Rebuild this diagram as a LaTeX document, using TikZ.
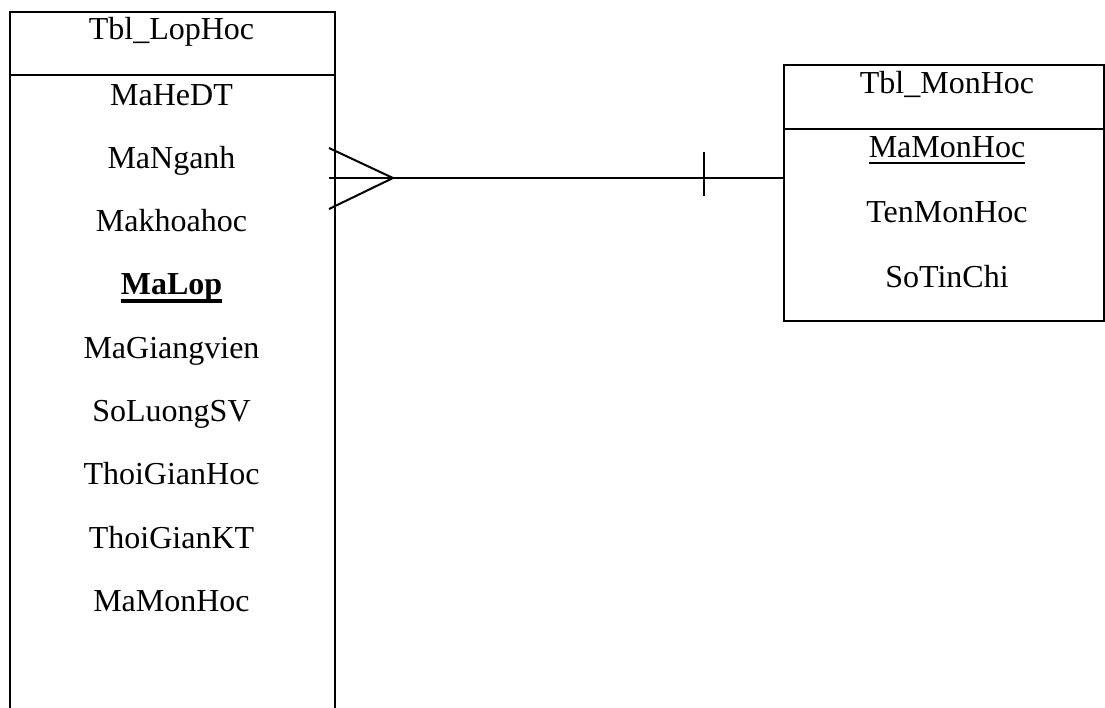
\documentclass[tikz,border=0pt]{standalone}
\usepackage{fontspec}
\setmainfont{Liberation Serif}
\usetikzlibrary{positioning}

% underline close under the baseline, #1 = rule thickness
\newcommand{\keyul}[3]{\setbox0\hbox{#3}\rlap{\copy0}\rule[-#2]{\wd0}{#1}}

\begin{document}
\begin{tikzpicture}[x=0.5pt,y=-0.5pt,on grid,
  tbl/.style={draw,line width=1.2pt,inner sep=0pt,anchor=north west},
  attr/.style={font=\fontsize{16}{18}\selectfont,text height=10pt,text depth=3pt,inner sep=0pt},
  rel/.style={line width=1pt}]
  \useasboundingbox (0,0) rectangle (1105,708);

  % tables
  \node[tbl,minimum width=162.5pt,minimum height=370pt] (lophoc) at (9,11) {};
  \node[tbl,minimum width=160pt,minimum height=128pt] (monhoc) at (783,64) {};
  \draw[line width=1.2pt] (lophoc.west |- 0,75) -- (lophoc.east |- 0,75);
  \draw[line width=1.2pt] (monhoc.west |- 0,129) -- (monhoc.east |- 0,129);

  % Tbl_LopHoc
  \node[attr] (lh-title) at (171.5,32) {Tbl\_LopHoc};
  \node[attr] (mahedt) at (171.5,98) {MaHeDT};
  \node[attr] (manganh) [below=31.65pt of mahedt] {MaNganh};
  \node[attr] (makhoahoc) [below=31.65pt of manganh] {Makhoahoc};
  \node[attr] (malop) [below=31.65pt of makhoahoc] {\keyul{1.7pt}{3.9pt}{\textbf{MaLop}}};
  \node[attr] (magv) [below=31.65pt of malop] {MaGiangvien};
  \node[attr] (soluongsv) [below=31.65pt of magv] {SoLuongSV};
  \node[attr] (tghoc) [below=31.65pt of soluongsv] {ThoiGianHoc};
  \node[attr] (tgkt) [below=31.65pt of tghoc] {ThoiGianKT};
  \node[attr] (lh-mamh) [below=31.65pt of tgkt] {MaMonHoc};

  % Tbl_MonHoc
  \node[attr] (mh-title) at (947,86) {Tbl\_MonHoc};
  \node[attr] (mamonhoc) at (947,150) {\keyul{1.1pt}{3.6pt}{MaMonHoc}};
  \node[attr] (tenmonhoc) [below=32.5pt of mamonhoc] {TenMonHoc};
  \node[attr] (sotinchi) [below=32.5pt of tenmonhoc] {SoTinChi};

  % relationship: many -- one
  \coordinate (crow) at (393,178);
  \coordinate (crow-top) at (329,148);
  \coordinate (crow-bot) at (329,209);
  \coordinate (bar-top) at (704,152);
  \coordinate (bar-bot) at (704,196);
  \draw[rel] (crow-top |- crow) -- (monhoc.west |- crow);
  \draw[rel] (crow-top) -- (crow) -- (crow-bot);
  \draw[rel] (bar-top) -- (bar-bot);
\end{tikzpicture}
\end{document}
